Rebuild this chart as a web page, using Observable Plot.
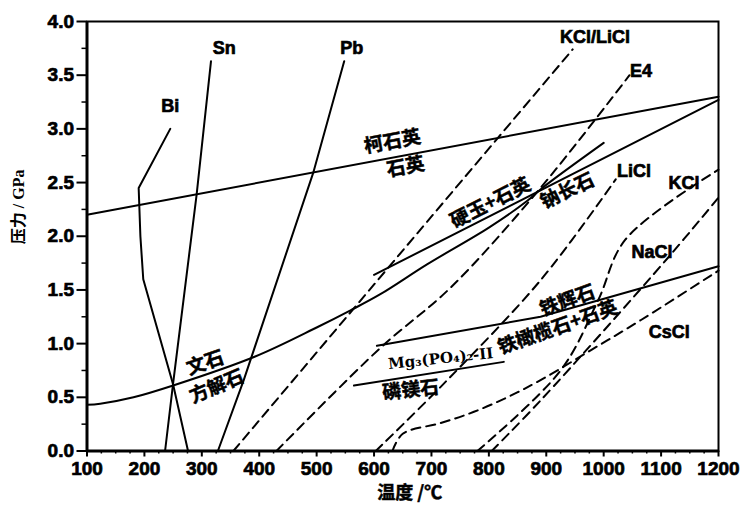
<!DOCTYPE html>
<html><head><meta charset="utf-8">
<script src="https://cdn.jsdelivr.net/npm/d3@7"></script>
<script src="https://cdn.jsdelivr.net/npm/@observablehq/plot@0.6"></script>
<style>
body{margin:0;background:#fff}
svg text{font-weight:bold}
g[aria-label="x-axis tick label"] text, g[aria-label="y-axis tick label"] text, .heavy text{stroke:#000;stroke-width:0.7px}
.cjk text{stroke:#000;stroke-width:0.5px}
</style>
</head><body><div id="chart"></div>
<script>
// tick values
const xTicks = [100,200,300,400,500,600,700,800,900,1000,1100,1200];
const xMinor = [125,150,175,225,250,275,325,350,375,425,450,475,525,550,575,625,650,675,725,750,775,825,850,875,925,950,975,1025,1050,1075,1125,1150,1175];
const yTicks = [0,0.5,1.0,1.5,2.0,2.5,3.0,3.5,4.0];
const yMinor = [0.25,0.75,1.25,1.75,2.25,2.75,3.25,3.75];

// solid curves: [temperature °C, pressure GPa]
const bi = [[245,3.0],[190,2.45],[193,2.0],[198,1.6],[250,0.62],[276,0]];
const sn = [[236,0],[250,0.63],[291,2.39],[316,3.63]];
const pb = [[328,0],[373,0.66],[494,2.59],[548,3.63]];
const coesiteQuartz = [[100,2.2],[1200,3.30]];
const jadeiteAlbite = [[600,1.64],[1200,3.27]];
const aragoniteCalcite = [[100,0.43],[123,0.44],[181,0.50],[250,0.61],[393,0.88],[500,1.15],[559,1.31],[611,1.46],[693,1.74],[800,2.08],[867,2.33],[893,2.45],[1000,2.87]];
const ferrosilite = [[605,0.98],[890,1.25],[1200,1.72]];
const farringtonite = [[565,0.61],[826,0.83]];

// dashed curves
const kclLicl = [[355,0],[946,3.74]];
const e4 = [[430,0],[611,0.96],[733,1.52],[890,2.45],[1045,3.5]];
const licl = [[603,0],[722,0.63],[890,1.59],[1021,2.53]];
const cscl = [[632,0],[650,0.16],[716,0.26],[774,0.365],[832,0.50],[890,0.66],[978,0.94],[1065,1.22],[1200,1.68]];
const kcl = [[780,0],[925,0.75],[990,1.40],[1038,1.97],[1200,2.62]];
const nacl = [[805,0],[890,0.47],[1112,1.80],[1200,2.36]];

// labels
const latinLabels = [
  {t:"Bi", x:245, y:3.21},
  {t:"Sn", x:339, y:3.75},
  {t:"Pb", x:561, y:3.75},
  {t:"KCl/LiCl", x:985, y:3.85},
  {t:"E4", x:1065, y:3.54},
  {t:"LiCl", x:1053, y:2.61},
  {t:"KCl", x:1140, y:2.49},
  {t:"NaCl", x:1084, y:1.85},
  {t:"CsCl", x:1114, y:1.11}
];
const cjkLabels = [
  {t:"柯石英", x:632, y:2.88, r:-10.6},
  {t:"石英", x:655, y:2.645, r:-10.6},
  {t:"硬玉+石英", x:803, y:2.31, r:-27},
  {t:"钠长石", x:937, y:2.42, r:-26},
  {t:"文石", x:306, y:0.82, r:-19},
  {t:"方解石", x:326, y:0.60, r:-23},
  {t:"磷镁石", x:664, y:0.566, r:-6},
  {t:"铁辉石", x:937, y:1.40, r:-20},
  {t:"铁橄榄石+石英", x:920, y:1.15, r:-19.5}
];
const formulaLabels = [{t:"Mg₃(PO₄)₂-II", x:716, y:0.86, r:-6}];

const solid = [bi, sn, pb, coesiteQuartz, jadeiteAlbite, ferrosilite, farringtonite];
const dashed = [kclLicl, e4, licl, kcl, nacl];

const X = d => d[0], Y = d => d[1];
const marks = [
  Plot.axisX({ticks: xMinor, tickSize: 3, tickFormat: () => "", strokeWidth: 1.5}),
  Plot.axisX({ticks: xTicks, tickSize: 6, tickPadding: 4, tickFormat: d => String(d), fontSize: 19, fontWeight: "bold", strokeWidth: 2}),
  Plot.axisY({ticks: yMinor, tickSize: 5, tickFormat: () => "", strokeWidth: 1.5}),
  Plot.axisY({ticks: yTicks, tickSize: 10, tickPadding: 3, tickFormat: d3.format(".1f"), fontSize: 19, fontWeight: "bold", strokeWidth: 2}),
  Plot.frame({strokeWidth: 2}),
  Plot.ruleX([100], {strokeWidth: 3}),
  Plot.ruleY([0], {strokeWidth: 3}),
  ...solid.map(s => Plot.line(s, {x: X, y: Y, stroke: "black", strokeWidth: 2})),
  Plot.line(aragoniteCalcite, {x: X, y: Y, stroke: "black", strokeWidth: 2, curve: "catmull-rom"}),
  ...dashed.map(s => Plot.line(s, {x: X, y: Y, stroke: "black", strokeWidth: 2, strokeDasharray: "9,6", curve: "catmull-rom"})),
  Plot.line(cscl, {x: X, y: Y, stroke: "black", strokeWidth: 2, strokeDasharray: "9,6", curve: "catmull-rom"}),
  Plot.text(latinLabels, {x: "x", y: "y", text: "t", fontSize: 18, fontWeight: "bold", fontFamily: "Liberation Sans, Arial, sans-serif", className: "heavy"}),
  Plot.text(cjkLabels, {x: "x", y: "y", text: "t", rotate: "r", fontSize: 19, fontWeight: "bold", fontFamily: "Noto Sans CJK SC, sans-serif", className: "cjk"}),
  Plot.text(formulaLabels, {x: "x", y: "y", text: "t", rotate: "r", fontSize: 15, fontWeight: "bold", fontFamily: "DejaVu Serif, serif"}),
  Plot.text(["压力 / GPa"], {frameAnchor: "left", dx: -68, dy: 8, rotate: -90, fontSize: 16, fontWeight: "bold", fontFamily: "Liberation Serif, Noto Sans CJK SC, serif"}),
  Plot.text(["温度 /℃"], {frameAnchor: "bottom", dx: 7, dy: 48, fontSize: 18, fontWeight: "bold", fontFamily: "Noto Sans CJK SC, sans-serif", className: "cjk"})
];

const chart = Plot.plot({
  width: 743, height: 507,
  marginLeft: 86.5, marginRight: 25, marginTop: 21, marginBottom: 56.5,
  x: {domain: [100, 1200], label: null},
  y: {domain: [0, 4], label: null},
  style: {fontFamily: "Liberation Sans, Arial, sans-serif", background: "white", color: "black"},
  marks
});
document.getElementById("chart").appendChild(chart);
</script>
</body></html>
